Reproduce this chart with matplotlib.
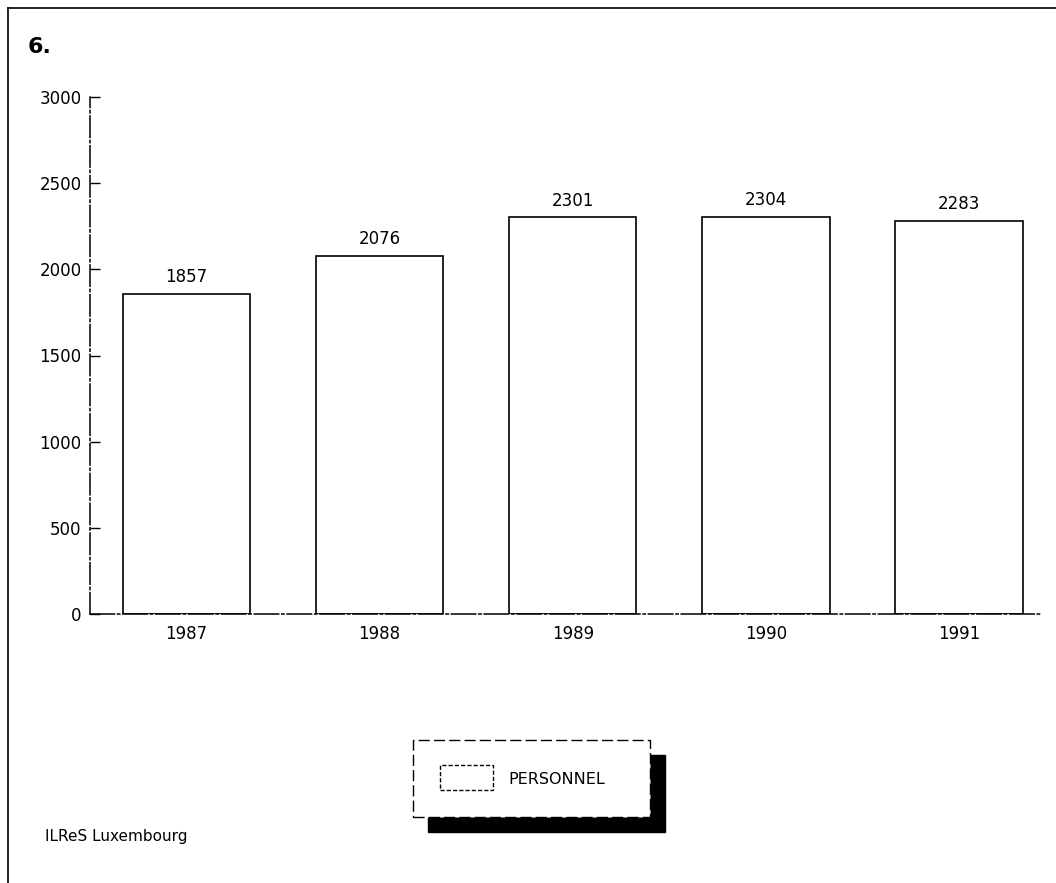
import matplotlib
matplotlib.use("Agg")
import matplotlib.pyplot as plt
from matplotlib.patches import Rectangle
from matplotlib.lines import Line2D

years = ["1987", "1988", "1989", "1990", "1991"]
personnel = [1857, 2076, 2301, 2304, 2283]
y_ticks = [0, 500, 1000, 1500, 2000, 2500, 3000]
series_name = "PERSONNEL"
chart_number = "6."
source = "ILReS Luxembourg"

W, H = 1056, 883
plt.rcParams["font.family"] = ["DejaVu Sans"]
fig = plt.figure(figsize=(W / 100, H / 100), dpi=100)

def fx(px):
    return px / W

def fy(py):
    return 1 - py / H

ax = fig.add_axes([fx(90), fy(614), fx(1040) - fx(90), fy(97) - fy(614)])
x = range(len(years))
ax.bar(x, personnel, width=0.66, facecolor="white", edgecolor="black", linewidth=1.2)
for xi, v in zip(x, personnel):
    ax.text(xi, v + 45, str(v), ha="center", va="bottom", fontsize=12)

ax.set_xlim(-0.5, 4.42)
ax.set_ylim(0, 3000)
ax.set_yticks(y_ticks)
ax.set_yticklabels([str(t) for t in y_ticks], fontsize=12)
ax.set_xticks(list(x))
ax.set_xticklabels(years, fontsize=12)
ax.tick_params(axis="y", direction="in", length=7, width=1, pad=6)
ax.tick_params(axis="x", length=0, pad=8)
for s in ("top", "right"):
    ax.spines[s].set_visible(False)
ax.spines["left"].set_linewidth(1.1)
ax.spines["left"].set_linestyle((0, (14, 2, 1.5, 2)))
ax.spines["bottom"].set_linewidth(1.1)
ax.spines["bottom"].set_linestyle((0, (16, 2, 1.5, 2)))

# page frame
fig.add_artist(Line2D([fx(8), fx(8)], [fy(8), fy(883)], color="black", lw=1.2))
fig.add_artist(Line2D([fx(8), fx(1056)], [fy(8), fy(8)], color="black", lw=1.2))

fig.text(fx(28), fy(47), chart_number, fontsize=16, fontweight="bold", va="center", ha="left")
fig.text(fx(45), fy(836), source, fontsize=11, va="center", ha="left")

# legend box with drop shadow
fig.add_artist(Rectangle((fx(428), fy(832)), fx(665) - fx(428), fy(755) - fy(832),
                         transform=fig.transFigure, facecolor="black", edgecolor="black"))
fig.add_artist(Rectangle((fx(413), fy(817)), fx(650) - fx(413), fy(740) - fy(817),
                         transform=fig.transFigure, facecolor="white", edgecolor="black",
                         linewidth=1, linestyle=(0, (8, 3))))
fig.add_artist(Rectangle((fx(440), fy(790)), fx(493) - fx(440), fy(765) - fy(790),
                         transform=fig.transFigure, facecolor="white", edgecolor="black",
                         linewidth=1, linestyle=(0, (3, 1.5))))
fig.text(fx(508), fy(779), series_name, fontsize=11.5, va="center", ha="left")

fig.savefig("out.png", dpi=100, facecolor="white")
